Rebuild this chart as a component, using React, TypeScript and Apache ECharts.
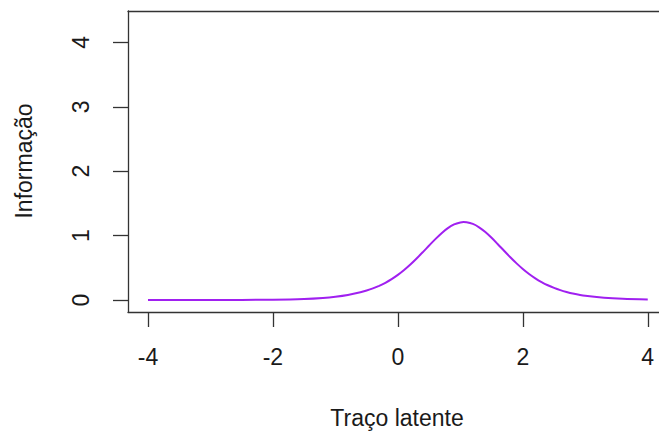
import React, { useEffect, useRef } from "react";
import * as echarts from "echarts";

const theta = [
  -4, -3.5, -3, -2.5, -2, -1.5, -1.2, -1, -0.8, -0.6, -0.5, -0.4, -0.3, -0.2, -0.1,
  0, 0.1, 0.2, 0.3, 0.4, 0.5, 0.6, 0.7, 0.8, 0.9, 1.0, 1.05, 1.1, 1.2, 1.3, 1.4,
  1.5, 1.6, 1.7, 1.8, 1.9, 2.0, 2.1, 2.2, 2.3, 2.4, 2.5, 2.6, 2.7, 2.8, 3.0, 3.3,
  3.6, 4.0,
];
const info = [
  0.0001, 0.0002, 0.0006, 0.0019, 0.0058, 0.0172, 0.0331, 0.051, 0.0782, 0.1193,
  0.1468, 0.18, 0.2203, 0.268, 0.3246, 0.3905, 0.466, 0.551, 0.6445, 0.744, 0.846,
  0.946, 1.0385, 1.116, 1.1733, 1.2048, 1.21, 1.2076, 1.1817, 1.1294, 1.0554,
  0.9656, 0.8666, 0.7643, 0.664, 0.569, 0.4823, 0.4048, 0.337, 0.2787, 0.229,
  0.1876, 0.153, 0.1244, 0.1008, 0.066, 0.0348, 0.018, 0.0075,
];
const xTicks = [-4, -2, 0, 2, 4];
const yTicks = [0, 1, 2, 3, 4];
const xTitle = "Traço latente";
const yTitle = "Informação";

export default function App() {
  const ref = useRef<HTMLDivElement>(null);
  useEffect(() => {
    if (!ref.current) return;
    const chart = echarts.init(ref.current, null, { renderer: "svg" });
    const font = "Liberation Sans, Arial, sans-serif";
    const textColor = "#1a1a1a";
    const lineCol = "#333333";
    const fs = 23;
    const xMin = -4.32;
    const xMax = 4.18;
    chart.setOption({
      animation: false,
      backgroundColor: "#ffffff",
      grid: {
        left: 128,
        right: 0,
        top: 11,
        bottom: 122,
        show: false,
      },
      xAxis: [
        {
          type: "value",
          position: "bottom",
          min: xMin,
          max: xMax,
          axisLine: { show: true, onZero: false, lineStyle: { color: lineCol, width: 1.3 } },
          splitLine: { show: false },
          axisTick: {
            show: true,
            length: 15,
            customValues: xTicks,
            lineStyle: { color: lineCol, width: 1.3 },
          },
          axisLabel: {
            customValues: xTicks,
            fontFamily: font,
            fontSize: fs,
            color: textColor,
            margin: 33,
          },
        },
        {
          type: "value",
          position: "top",
          min: xMin,
          max: xMax,
          axisLine: { show: true, onZero: false, lineStyle: { color: lineCol, width: 1.3 } },
          splitLine: { show: false },
          axisTick: { show: false },
          axisLabel: { show: false },
        },
      ],
      yAxis: {
        type: "value",
        min: -0.186,
        max: 4.488,
        axisLine: { show: true, onZero: false, lineStyle: { color: lineCol, width: 1.3 } },
        splitLine: { show: false },
        axisTick: {
          show: true,
          length: 15,
          customValues: yTicks,
          lineStyle: { color: lineCol, width: 1.3 },
        },
        axisLabel: {
          customValues: yTicks,
          rotate: 90,
          fontFamily: font,
          fontSize: fs,
          color: textColor,
          margin: 36,
        },
      },
      graphic: [
        {
          type: "text",
          x: 397,
          y: 418,
          style: {
            text: xTitle,
            fontFamily: font,
            fontSize: fs,
            fill: textColor,
            textAlign: "center",
            textVerticalAlign: "middle",
          },
        },
        {
          type: "text",
          x: 24,
          y: 161,
          rotation: Math.PI / 2,
          style: {
            text: yTitle,
            fontFamily: font,
            fontSize: fs,
            fill: textColor,
            textAlign: "center",
            textVerticalAlign: "middle",
          },
        },
      ],
      series: [
        {
          type: "line",
          xAxisIndex: 0,
          data: theta.map((t, i) => [t, info[i]]),
          showSymbol: false,
          smooth: 0.3,
          lineStyle: { color: "#A020F0", width: 2 },
        },
      ],
    });
    return () => chart.dispose();
  }, []);
  return <div ref={ref} style={{ width: 659, height: 434, position: "fixed", left: 0, top: 0 }} />;
}
